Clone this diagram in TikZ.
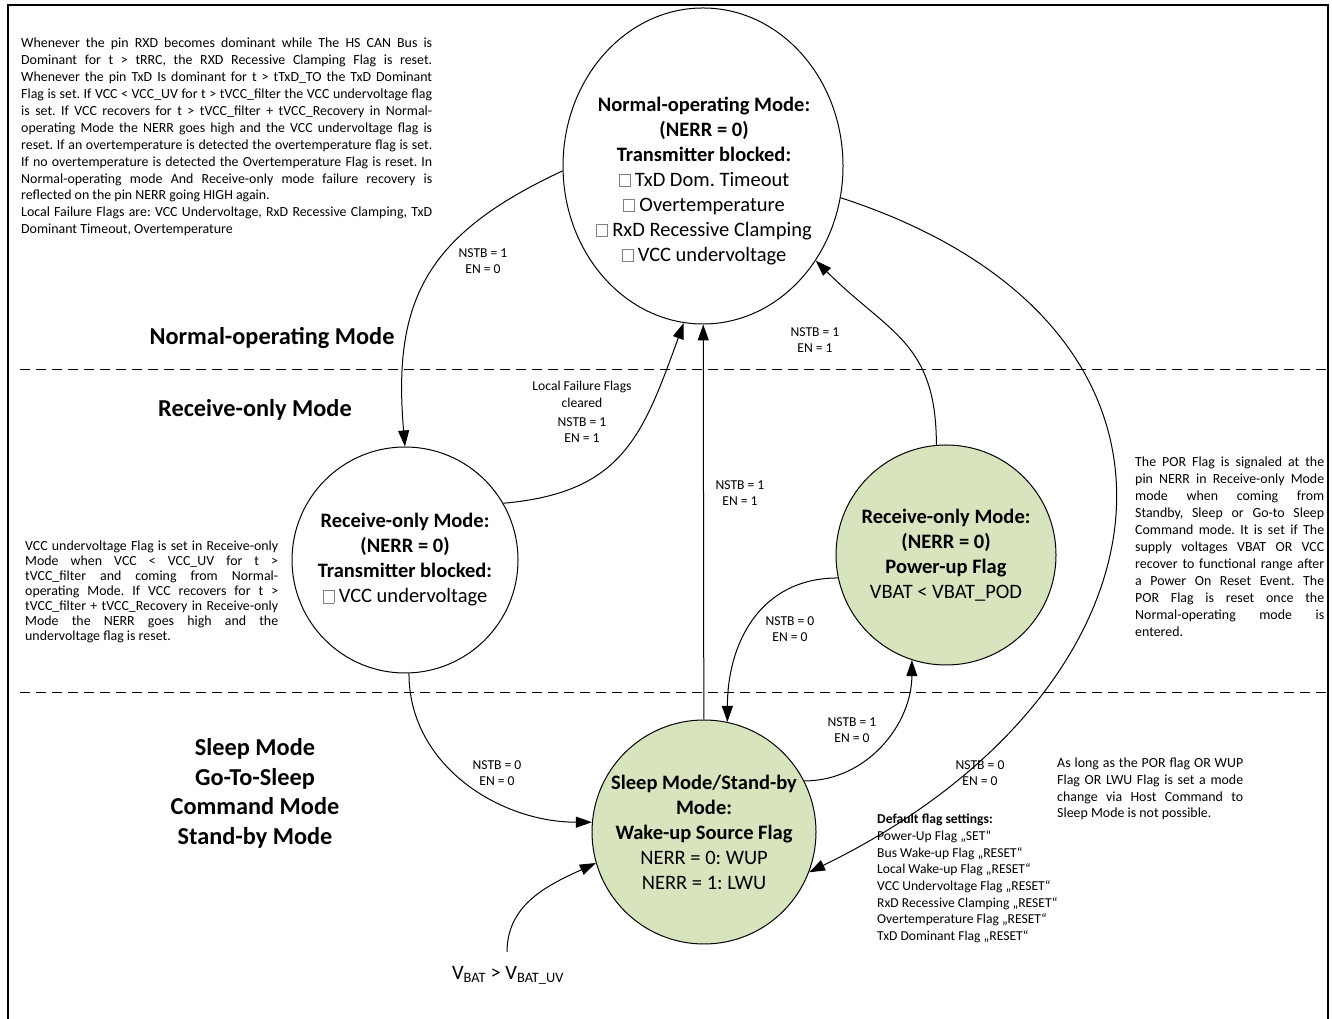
\documentclass[tikz,border=0pt]{standalone}
\usepackage{fontspec}
\setmainfont{Carlito}
\usetikzlibrary{shapes.geometric,arrows.meta}
\definecolor{stategreen}{RGB}{215,228,189}
\newcommand{\chk}{{\color{gray}\setlength{\fboxsep}{0pt}\setlength{\fboxrule}{0.6pt}\fbox{\rule{0pt}{0.6em}\hspace{0.5em}}}}
\hbadness=10000
\hfuzz=30pt
\frenchspacing

\begin{document}
\begin{tikzpicture}[x=1pt,y=1pt,
  modecircle/.style={circle,draw,line width=1pt,inner sep=0pt,align=center,
    font=\fontsize{20.5}{25}\selectfont},
  lit/.style={fill=stategreen},
  arr/.style={-{Triangle[length=16pt,width=11pt]},line width=1pt},
  cond/.style={align=center,inner sep=0pt,font=\fontsize{13.6}{16.7}\selectfont},
  note/.style={align=justify,inner sep=0pt,anchor=north west,
    font=\fontsize{13.9}{16.9}\selectfont},
  zone/.style={align=center,inner sep=0pt,font=\fontsize{24.3}{29.7}\selectfont\bfseries},
  zoneline/.style={dash pattern=on 10pt off 6pt,line width=1pt}]
\useasboundingbox (0,0) rectangle (1332,1019);
\draw[line width=1.5pt] (8,0) |- (1328,1014) -- (1328,0);

% mode borders
\draw[zoneline] (20,649) -- (1326,649);
\draw[zoneline] (20,326) -- (1326,326);
\node[zone] (znormal) at (272,681) {Normal-operating Mode};
\node[zone] (zrxo) at (255,609) {Receive-only Mode};
\node[zone] (zsleep) at (255,225.5) {Sleep Mode\\Go-To-Sleep\\Command Mode\\Stand-by Mode};

% states
\node[ellipse,draw,line width=1pt,minimum width=280,minimum height=316] (normal) at (703,853) {};
\node[align=center,inner sep=0pt,font=\fontsize{20.5}{25}\selectfont] (normaltxt) at (704,838)
  {\textbf{Normal-operating Mode:}\\\textbf{(NERR = 0)}\\\textbf{Transmitter blocked:}\\
   \chk{} TxD Dom. Timeout\\\chk{} Overtemperature\\\chk{} RxD Recessive Clamping\\\chk{} VCC undervoltage};
\node[modecircle,minimum size=226] (rxo) at (405,459)
  {\textbf{Receive-only Mode:}\\\textbf{(NERR = 0)}\\\textbf{Transmitter blocked:}\\\chk{} VCC undervoltage};
\node[modecircle,lit,minimum size=220] (pwr) at (946,464)
  {\textbf{Receive-only Mode:}\\\textbf{(NERR = 0)}\\\textbf{Power-up Flag}\\VBAT < VBAT\_POD};
\node[modecircle,lit,minimum size=224] (sleep) at (704,187)
  {\textbf{Sleep Mode/Stand-by}\\\textbf{Mode:}\\\textbf{Wake-up Source Flag}\\NERR = 0: WUP\\NERR = 1: LWU};
\node[inner sep=0pt,font=\fontsize{20.5}{25}\selectfont] (vbat) at (508,44)
  {V\textsubscript{BAT} > V\textsubscript{BAT\_UV}};
\coordinate (vstart) at (507,67);

% transitions
\draw[arr] (normal.182) to[out=205,in=95,looseness=1.2] (rxo.north);
\draw[arr] (rxo.30) to[out=5,in=250,looseness=1.2] (normal.263);
\draw[arr] (sleep) -- (normal);
\draw[arr] (pwr.95) to[out=90,in=-45,looseness=1.2] (normal.320);
\draw[arr] (normal.347) to[out=-18,in=26,looseness=1.58] (sleep.339);
\draw[arr] (sleep.27) to[out=0,in=-90] (pwr.252);
\draw[arr] (pwr.192) to[out=180,in=90,looseness=1.1] (sleep.78);
\draw[arr] (rxo.272) to[out=-90,in=180] (sleep.175);
\draw[arr] (vstart) to[out=90,in=205] (sleep.196);

\node[cond] (c1) at (483,758) {NSTB = 1\\EN = 0};
\node[cond] (c2) at (582,607) {Local Failure Flags\\cleared\\[2pt]NSTB = 1\\EN = 1};
\node[cond] (c3) at (740,526) {NSTB = 1\\EN = 1};
\node[cond] (c4) at (815,679) {NSTB = 1\\EN = 1};
\node[cond] (c5) at (790,390) {NSTB = 0\\EN = 0};
\node[cond] (c6) at (852,289) {NSTB = 1\\EN = 0};
\node[cond] (c7) at (497,246) {NSTB = 0\\EN = 0};
\node[cond] (c8) at (980,246) {NSTB = 0\\EN = 0};

% notes
\node[note,text width=411] (flagnote) at (21,981)
  {Whenever the pin RXD becomes dominant while The HS CAN Bus is\linebreak
   Dominant for t > tRRC, the RXD Recessive Clamping Flag is reset.\linebreak
   Whenever the pin TxD Is dominant for t > tTxD\_TO the TxD Dominant\linebreak
   Flag is set. If VCC < VCC\_UV for t > tVCC\_filter the VCC undervoltage flag\linebreak
   is set. If VCC recovers for t > tVCC\_filter + tVCC\_Recovery in Normal-\linebreak
   operating Mode the NERR goes high and the VCC undervoltage flag is\linebreak
   reset. If an overtemperature is detected the overtemperature flag is set.\linebreak
   If no overtemperature is detected the Overtemperature Flag is reset. In\linebreak
   Normal-operating mode And Receive-only mode failure recovery is\linebreak
   reflected on the pin NERR going HIGH again.\par
   Local Failure Flags are: VCC Undervoltage, RxD Recessive Clamping, TxD\linebreak
   Dominant Timeout, Overtemperature};
\node[note,text width=253,font=\fontsize{13.9}{15}\selectfont] (uvnote) at (25,478)
  {VCC undervoltage Flag is set in Receive-only\linebreak
   Mode when VCC < VCC\_UV for t >\linebreak
   tVCC\_filter and coming from Normal-\linebreak
   operating Mode. If VCC recovers for t >\linebreak
   tVCC\_filter + tVCC\_Recovery in Receive-only\linebreak
   Mode the NERR goes high and the\linebreak
   undervoltage flag is reset.};
\node[note,text width=189,font=\fontsize{13.9}{17}\selectfont] (pornote) at (1135,562)
  {The POR Flag is signaled at the\linebreak
   pin NERR in Receive-only Mode\linebreak
   mode when coming from\linebreak
   Standby, Sleep or Go-to Sleep\linebreak
   Command mode. It is set if The\linebreak
   supply voltages VBAT OR VCC\linebreak
   recover to functional range after\linebreak
   a Power On Reset Event. The\linebreak
   POR Flag is reset once the\linebreak
   Normal-operating mode is\linebreak
   entered.};
\node[note,text width=186,font=\fontsize{13.9}{16.7}\selectfont] (wupnote) at (1057,261)
  {As long as the POR flag OR WUP\linebreak
   Flag OR LWU Flag is set a mode\linebreak
   change via Host Command to\linebreak
   Sleep Mode is not possible.};
\node[note,align=left,font=\fontsize{13.6}{16.7}\selectfont] (defaults) at (877,205)
  {\textbf{Default flag settings:}\\
   Power-Up Flag „SET“\\
   Bus Wake-up Flag „RESET“\\
   Local Wake-up Flag „RESET“\\
   VCC Undervoltage Flag „RESET“\\
   RxD Recessive Clamping „RESET“\\
   Overtemperature Flag „RESET“\\
   TxD Dominant Flag „RESET“};
\end{tikzpicture}
\end{document}
